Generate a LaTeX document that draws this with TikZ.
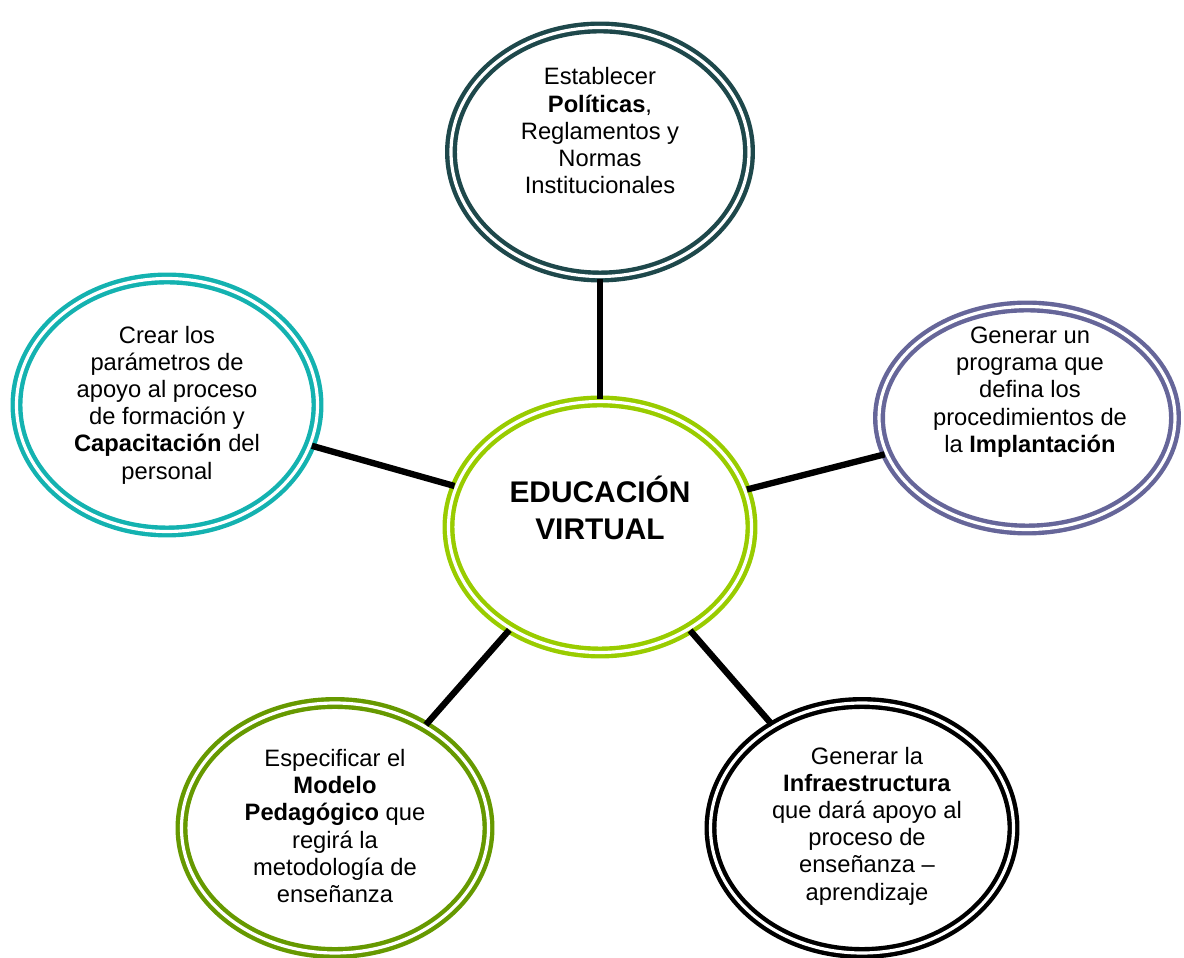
\documentclass[tikz,border=0pt]{standalone}
\usepackage{fontspec}
\setmainfont{Liberation Sans}
\usetikzlibrary{shapes.geometric}

\definecolor{tealOscuro}{RGB}{30,72,75}
\definecolor{verdeLima}{RGB}{153,204,0}
\definecolor{turquesa}{RGB}{20,178,176}
\definecolor{lavanda}{RGB}{102,102,153}
\definecolor{oliva}{RGB}{102,153,0}

\begin{document}
\begin{tikzpicture}[anillo/.style = {shape = ellipse, draw = #1, double = white,
        line width = 2.5pt, double distance = 1.8pt},
    texto/.style = {align = center, inner sep = 0pt, font = \fontsize{13.5}{15.5}\selectfont},
    enlace/.style = {line width = 3.6pt, black}]
        \useasboundingbox (0,0) rectangle (23.68,19.14);
        % anillos
        \node[anillo = tealOscuro, minimum width = 5.96cm, minimum height = 4.98cm] (pol) at (12,16.1) {};
        \node[anillo = verdeLima, minimum width = 6.06cm, minimum height = 5.02cm] (centro) at (12,8.6) {};
        \node[anillo = turquesa, minimum width = 6.02cm, minimum height = 5.06cm] (cap) at (3.34,11.04) {};
        \node[anillo = lavanda, minimum width = 5.92cm, minimum height = 4.46cm] (impl) at (20.54,10.78) {};
        \node[anillo = oliva, minimum width = 6.14cm, minimum height = 5cm] (mod) at (6.7,2.58) {};
        \node[anillo = black, minimum width = 6.06cm, minimum height = 5cm] (infra) at (17.24,2.58) {};
        % textos
        \node[texto] (polT) at ([yshift = 0.42cm]pol.center)
            {Establecer\\ \textbf{Políticas},\\ Reglamentos y\\ Normas\\ Institucionales};
        \node[texto, font = \fontsize{17}{21}\selectfont\bfseries] (centroT) at ([yshift = 0.38cm]centro.center)
            {EDUCACIÓN\\ VIRTUAL};
        \node[texto] (capT) at (cap.center)
            {Crear los\\ parámetros de\\ apoyo al proceso\\ de formación y\\ \textbf{Capacitación} del\\ personal};
        \node[texto] (implT) at ([xshift = 0.06cm, yshift = 0.52cm]impl.center)
            {Generar un\\ programa que\\ defina los\\ procedimientos de\\ la \textbf{Implantación}};
        \node[texto] (modT) at ([yshift = 0.04cm]mod.center)
            {Especificar el\\ \textbf{Modelo}\\ \textbf{Pedagógico} que\\ regirá la\\ metodología de\\ enseñanza};
        \node[texto] (infraT) at ([xshift = 0.1cm, yshift = 0.04cm]infra.center)
            {Generar la\\ \textbf{Infraestructura}\\ que dará apoyo al\\ proceso de\\ enseñanza --\\ aprendizaje};
        % enlaces
        \draw[enlace] (pol) -- (centro);
        \draw[enlace] (cap) -- (centro);
        \draw[enlace] (impl) -- (centro);
        \draw[enlace] (mod) -- (centro);
        \draw[enlace] (infra) -- (centro);
\end{tikzpicture}
\end{document}
